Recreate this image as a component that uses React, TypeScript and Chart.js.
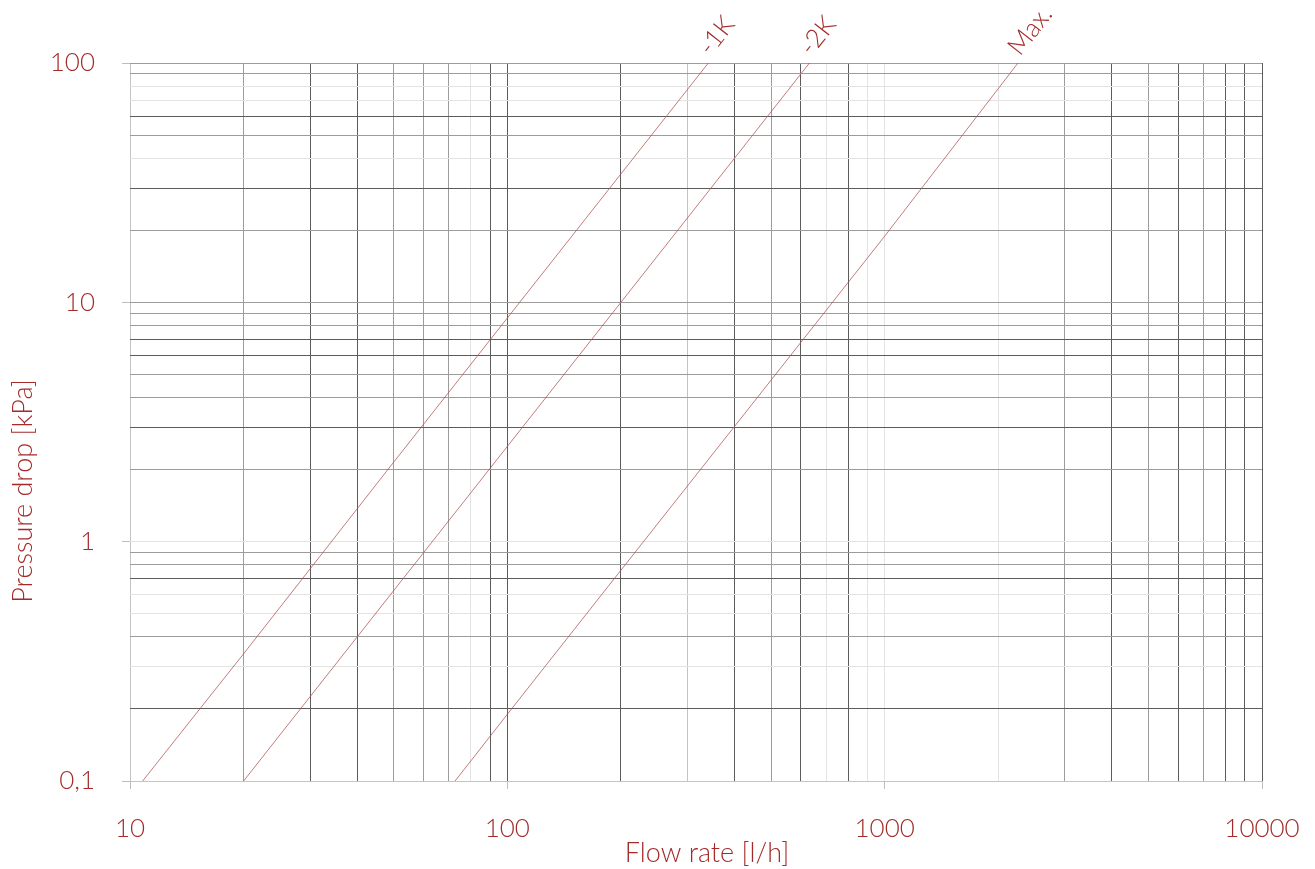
import React, { useEffect, useRef } from 'react';
import { Chart, registerables } from 'chart.js';

Chart.register(...registerables);

// ---- data ----
const flowTicks = [10, 20, 30, 40, 50, 60, 70, 80, 90, 100, 200, 300, 400, 500, 600, 700, 800, 900, 1000, 2000, 3000, 4000, 5000, 6000, 7000, 8000, 9000, 10000];
const flowDecades = [10, 100, 1000, 10000];
const flowDecadeLabels = ['10', '100', '1000', '10000'];

const pressureTicks = [0.1, 0.2, 0.3, 0.4, 0.5, 0.6, 0.7, 0.8, 0.9, 1, 2, 3, 4, 5, 6, 7, 8, 9, 10, 20, 30, 40, 50, 60, 70, 80, 90, 100];
const pressureDecades = [0.1, 1, 10, 100];
const pressureDecadeLabels = ['0,1', '1', '10', '100'];

const curveNames = ['-1K', '-2K', 'Max.'];

const flowMinus1K = [10.8, 20, 50, 100, 200, 341];
const dpMinus1K = [0.1, 0.34, 2.15, 8.6, 34.4, 100];

const flowMinus2K = [20, 40, 100, 200, 400, 632];
const dpMinus2K = [0.1, 0.4, 2.5, 10, 40, 100];

const flowMax = [72.7, 100, 200, 500, 1000, 2256];
const dpMax = [0.1, 0.19, 0.76, 4.73, 18.9, 100];

// ---- styles ----
const xGridShade = ['b', 'm', 'd', 'd', 'm', 'm', 'm', 'l', 'd', 'd', 'd', 'b', 'd', 'm', 'd', 'l', 'd', 'l', 'l', 'l', 'm', 'd', 'm', 'd', 'm', 'd', 'd', 'd'];
const yGridShade = ['b', 'd', 'l', 'm', 'l', 'l', 'd', 'm', 'm', 'l', 'm', 'd', 'm', 'm', 'd', 'd', 'm', 'm', 'm', 'm', 'd', 'l', 'm', 'd', 'l', 'l', 'm', 'm'];
const shadeColors: Record<string, string> = {
  d: '#5c5c5c',
  m: '#9c9c9c',
  b: '#c4c4c4',
  l: '#e3e3e3',
};

const RED = '#a32c2a';
const LINE = 'rgba(175, 80, 80, 0.75)';
const FONT = 'Lato';
const W = 1315;
const H = 869;

function isDecade(v: number, list: number[]) {
  return list.findIndex((d) => Math.abs(v - d) / d < 1e-6);
}

const labelsPlugin = {
  id: 'curveLabels',
  afterDatasetsDraw(chart: any) {
    const ctx = chart.ctx;
    ctx.save();
    ctx.fillStyle = RED;
    ctx.font = `300 26px ${FONT}`;
    ctx.textAlign = 'left';
    ctx.textBaseline = 'alphabetic';
    chart.data.datasets.forEach((ds: any, i: number) => {
      const meta = chart.getDatasetMeta(i);
      const pts = meta.data;
      const p0 = pts[0];
      const p1 = pts[pts.length - 1];
      const ang = Math.atan2(p1.y - p0.y, p1.x - p0.x);
      ctx.save();
      ctx.translate(p1.x, p1.y);
      ctx.rotate(ang);
      ctx.fillText(curveNames[i], 6, -2);
      ctx.restore();
    });
    ctx.restore();
  },
  afterDraw(chart: any) {
    const ctx = chart.ctx;
    ctx.save();
    ctx.fillStyle = RED;
    ctx.font = `300 27px ${FONT}`;
    ctx.textAlign = 'center';
    ctx.textBaseline = 'middle';
    ctx.fillText('Flow rate [l/h]', 707, 853);
    ctx.translate(23, 491);
    ctx.rotate(-Math.PI / 2);
    ctx.fillText('Pressure drop [kPa]', 0, 0);
    ctx.restore();
  },
};

export default function App() {
  const ref = useRef<HTMLCanvasElement | null>(null);

  useEffect(() => {
    if (!ref.current) return;
    const mk = (xs: number[], ys: number[]) => xs.map((x, i) => ({ x, y: ys[i] }));
    const chart = new Chart(ref.current, {
      type: 'scatter',
      data: {
        datasets: [
          { label: curveNames[0], data: mk(flowMinus1K, dpMinus1K) },
          { label: curveNames[1], data: mk(flowMinus2K, dpMinus2K) },
          { label: curveNames[2], data: mk(flowMax, dpMax) },
        ].map((d) => ({
          ...d,
          showLine: true,
          borderColor: LINE,
          borderWidth: 1,
          pointRadius: 0,
          pointHoverRadius: 0,
          fill: false,
        })),
      },
      options: {
        animation: false,
        responsive: false,
        maintainAspectRatio: false,
        layout: { padding: { top: 63, right: 53, left: 0, bottom: 0 } },
        plugins: {
          legend: { display: false },
          tooltip: { enabled: false },
        },
        scales: {
          x: {
            type: 'logarithmic',
            min: 10,
            max: 10000,
            afterBuildTicks: (scale: any) => {
              scale.ticks = flowTicks.map((v) => ({ value: v }));
            },
            afterFit: (scale: any) => {
              scale.height = 88;
              scale.paddingLeft = 0;
              scale.paddingRight = 0;
            },
            border: { display: false },
            grid: {
              color: (c: any) => shadeColors[xGridShade[c.index]] || '#ccc',
              lineWidth: 1,
              drawTicks: true,
              tickLength: 8,
              tickColor: (c: any) => (c.tick && isDecade(c.tick.value, flowDecades) >= 0 ? '#bdbdbd' : 'rgba(0,0,0,0)'),
            },
            ticks: {
              autoSkip: false,
              maxRotation: 0,
              minRotation: 0,
              padding: 24,
              color: RED,
              font: { family: FONT, size: 26, weight: '300' },
              callback: (v: any) => {
                const k = isDecade(Number(v), flowDecades);
                return k >= 0 ? flowDecadeLabels[k] : '';
              },
            },
          },
          y: {
            type: 'logarithmic',
            min: 0.1,
            max: 100,
            afterBuildTicks: (scale: any) => {
              scale.ticks = pressureTicks.map((v) => ({ value: v }));
            },
            afterFit: (scale: any) => {
              scale.width = 130;
              scale.paddingTop = 0;
              scale.paddingBottom = 0;
            },
            border: { display: false },
            grid: {
              color: (c: any) => shadeColors[yGridShade[c.index]] || '#ccc',
              lineWidth: 1,
              drawTicks: true,
              tickLength: 8,
              tickColor: (c: any) => (c.tick && isDecade(c.tick.value, pressureDecades) >= 0 ? '#bdbdbd' : 'rgba(0,0,0,0)'),
            },
            ticks: {
              autoSkip: false,
              padding: 27,
              color: RED,
              font: { family: FONT, size: 26, weight: '300' },
              callback: (v: any) => {
                const k = isDecade(Number(v), pressureDecades);
                return k >= 0 ? pressureDecadeLabels[k] : '';
              },
            },
          },
        },
      },
      plugins: [labelsPlugin],
    } as any);
    return () => chart.destroy();
  }, []);

  return (
    <div style={{ position: 'absolute', left: 0, top: 0, width: W, height: H, background: '#fff', overflow: 'hidden' }}>
      <canvas ref={ref} width={W} height={H} style={{ display: 'block', width: W, height: H }} />
    </div>
  );
}
